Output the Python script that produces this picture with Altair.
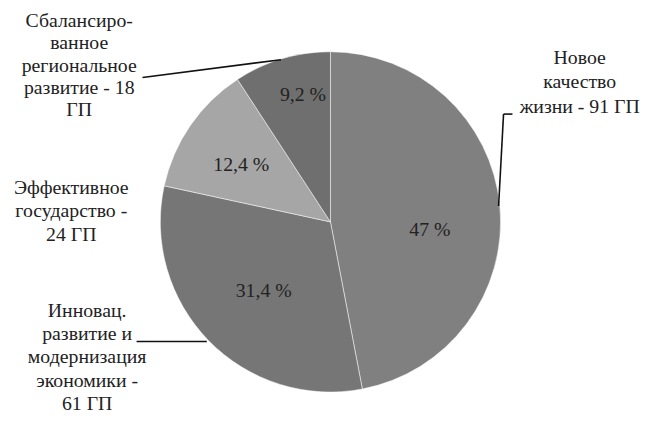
import altair as alt
import pandas as pd

categories = ["Новое качество жизни", "Инновац. развитие и модернизация экономики",
              "Эффективное государство", "Сбалансированное региональное развитие"]
shares = [47, 31.4, 12.4, 9.2]
pct_labels = ["47 %", "31,4 %", "12,4 %", "9,2 %"]
colors = ["#808080", "#767676", "#a6a6a6", "#6f6f6f"]
outer_labels = [
    "Новое\nкачество\nжизни - 91 ГП",
    "Инновац.\nразвитие и\nмодернизация\nэкономики -\n61 ГП",
    "Эффективное\nгосударство -\n24 ГП",
    "Сбалансиро-\nванное\nрегиональное\nразвитие - 18\nГП",
]

df = pd.DataFrame({"cat": categories, "share": shares, "pct": pct_labels,
                   "idx": list(range(len(categories)))})

FONT = "Times New Roman"
TXT = "#222222"
CX, CY = 325, 213
W, H = 640, 404

# white backdrop covering the default view border
backdrop = alt.Chart(pd.DataFrame({"a": [0]})).mark_rect(
    fill="white", stroke="white", strokeWidth=3
).encode(x=alt.value(1), x2=alt.value(W), y=alt.value(1), y2=alt.value(H))

base = alt.Chart(df)
theta = alt.Theta("share:Q", stack=True)
order = alt.Order("idx:Q")

arc = base.mark_arc(outerRadius=172, stroke="white", strokeWidth=1, strokeOpacity=0.5).encode(
    theta=theta, order=order, x=alt.value(CX), y=alt.value(CY),
    color=alt.Color("cat:N", scale=alt.Scale(domain=categories, range=colors), legend=None),
)

label_style = [(98, 3, 17), (97, 2, 2), (107, -2, 3), (129, 9, -5)]
pct_layers = []
for i, (r, dx, dy) in enumerate(label_style):
    pct_layers.append(
        base.mark_text(radius=r, dx=dx, dy=dy, color=TXT, font=FONT, fontSize=20).encode(
            theta=theta, order=order, x=alt.value(CX), y=alt.value(CY),
            text=alt.condition(f"datum.idx == {i}", "pct:N", alt.value("")),
        )
    )

outer_pos = [(577, 37, 25), (79, 293, 23.5), (63, 169, 23.5), (71, 0, 22.5)]
outer_layers = []
for i, (x, y, lh) in enumerate(outer_pos):
    outer_layers.append(
        alt.Chart(pd.DataFrame({"t": [outer_labels[i]]})).mark_text(
            color=TXT, align="center", baseline="top", font=FONT, fontSize=20,
            lineBreak="\n", lineHeight=lh,
        ).encode(x=alt.value(x), y=alt.value(y), text="t:N")
    )

segs = [((135, 67), (275, 49)), ((129, 334), (200, 334)),
        ((500, 104), (509, 104)), ((500, 104), (495, 197))]
rule_layers = []
for (x1, y1), (x2, y2) in segs:
    rule_layers.append(
        alt.Chart(pd.DataFrame({"a": [0]})).mark_rule(color="#111111", strokeWidth=1.6).encode(
            x=alt.value(x1), y=alt.value(y1), x2=alt.value(x2), y2=alt.value(y2)
        )
    )

chart = alt.layer(backdrop, arc, *pct_layers, *outer_layers, *rule_layers).properties(
    width=W, height=H,
    padding={"left": 0, "top": 0, "right": 0, "bottom": 0},
)

chart.save("out.html", embed_options={"renderer": "svg", "actions": False})
